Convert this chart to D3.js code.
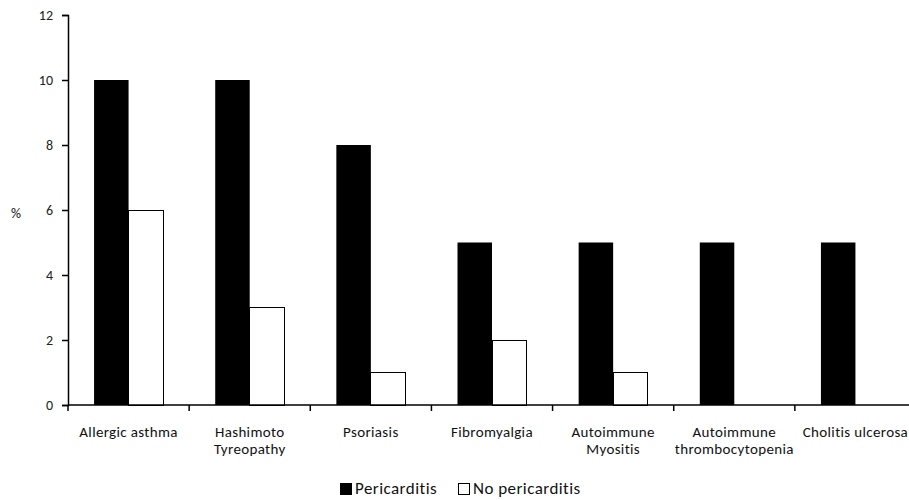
<!DOCTYPE html>
<html><head><meta charset="utf-8">
<script src="https://cdn.jsdelivr.net/npm/d3@7"></script>
<style>
body{margin:0;background:#fff;}
text{font-family:Carlito,Lato,"Open Sans",sans-serif;}
</style></head>
<body><svg id="c" width="909" height="500"></svg>
<script>
const categories = [["Allergic asthma"],["Hashimoto","Tyreopathy"],["Psoriasis"],["Fibromyalgia"],["Autoimmune","Myositis"],["Autoimmune","thrombocytopenia"],["Cholitis ulcerosa"]];
const pericarditis = [10,10,8,5,5,5,5];
const noPericarditis = [6,3,1,2,1,0,0];
const yTicks = [0,2,4,6,8,10,12];
const seriesNames = ["Pericarditis","No pericarditis"];

const svg = d3.select("#c");
const x = d3.scaleBand().domain(d3.range(categories.length)).range([68,916]).paddingInner(0).paddingOuter(0);
const y = d3.scaleLinear().domain([0,12]).range([405,15]);
const bw = 34.5;
const g = svg.append("g");

g.selectAll(".p").data(pericarditis).join("rect")
  .attr("x",(d,i)=>x(i)+x.bandwidth()/2-bw).attr("width",bw)
  .attr("y",d=>y(d)).attr("height",d=>y(0)-y(d)).attr("fill","#000");
g.selectAll(".n").data(noPericarditis).join("rect")
  .attr("x",(d,i)=>x(i)+x.bandwidth()/2).attr("width",bw)
  .attr("y",d=>y(d)).attr("height",d=>y(0)-y(d)).attr("fill","#fff")
  .attr("stroke","#000").attr("stroke-width",1).attr("shape-rendering","crispEdges");

const yAxis = svg.append("g").attr("transform","translate(68,0)")
  .call(d3.axisLeft(y).tickValues(yTicks).tickSize(6).tickPadding(9));
yAxis.select(".domain").attr("stroke","#000").attr("stroke-width",1.5);
yAxis.selectAll("text").attr("font-size",14).attr("fill","#222").attr("font-family","Lato,sans-serif");
yAxis.selectAll("line").attr("stroke","#000").attr("stroke-width",1.5);

svg.append("line").attr("x1",68).attr("x2",916).attr("y1",405).attr("y2",405).attr("stroke","#000").attr("stroke-width",1.5);
svg.selectAll(".xt").data(d3.range(categories.length)).join("line")
  .attr("x1",d=>x(d)).attr("x2",d=>x(d)).attr("y1",405).attr("y2",411).attr("stroke","#000").attr("stroke-width",1.5);

svg.selectAll(".cl").data(categories).join("text")
  .attr("text-anchor","middle").attr("font-size",15).attr("fill","#111")
  .style("letter-spacing","0.35px")
  .attr("transform",(d,i)=>`translate(${x(i)+x.bandwidth()/2},437)`)
  .each(function(d){
    d3.select(this).selectAll("tspan").data(d).join("tspan")
      .attr("x",0).attr("dy",(t,j)=>j===0?0:16.5).text(t=>t);
  });

svg.append("text").attr("x",16).attr("y",218).attr("font-size",14).attr("text-anchor","middle").attr("fill","#111").text("%");

const leg = svg.append("g").attr("transform","translate(0,494)");
const items = [{n:seriesNames[0],f:"#000",x:340},{n:seriesNames[1],f:"#fff",x:458}];
items.forEach(it=>{
  leg.append("rect").attr("x",it.x+0.5).attr("y",-10.5).attr("width",11).attr("height",11)
    .attr("fill",it.f).attr("stroke","#000").attr("stroke-width",1);
  leg.append("text").attr("x",it.x+15).attr("y",0).attr("font-size",17).attr("fill","#111")
    .style("letter-spacing","0.45px").text(it.n);
});
</script></body></html>
